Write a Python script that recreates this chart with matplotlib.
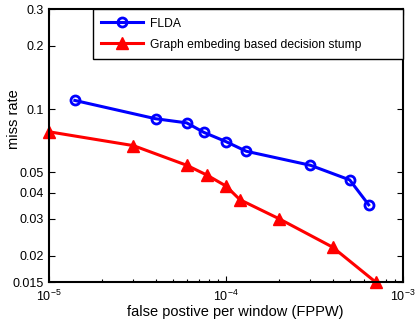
import numpy as np
import matplotlib
matplotlib.use("Agg")
import matplotlib.pyplot as plt
from matplotlib.ticker import FixedLocator, NullFormatter, LogLocator, NullLocator

plt.rcParams['font.family'] = ['Liberation Sans', 'DejaVu Sans']
plt.rcParams['mathtext.fontset'] = 'custom'
plt.rcParams['mathtext.rm'] = 'Liberation Sans'
plt.rcParams['mathtext.it'] = 'Liberation Sans'

# FLDA curve
flda_fppw = [1.4e-5, 4e-5, 6e-5, 7.5e-5, 1e-4, 1.3e-4, 3e-4, 5e-4, 6.4e-4]
flda_miss = [0.110, 0.090, 0.086, 0.0775, 0.070, 0.063, 0.054, 0.046, 0.035]

# graph embedding based decision stump
ge_fppw = [1e-5, 3e-5, 6e-5, 7.8e-5, 1e-4, 1.2e-4, 2e-4, 4e-4, 7e-4]
ge_miss = [0.078, 0.067, 0.054, 0.0485, 0.043, 0.037, 0.030, 0.022, 0.015]

ytick_vals = [0.015, 0.02, 0.03, 0.04, 0.05, 0.1, 0.2, 0.3]
ytick_labels = ['0.015', '0.02', '0.03', '0.04', '0.05', '0.1', '0.2', '0.3']

fig = plt.figure(figsize=(4.15, 3.24), dpi=100)
ax = fig.add_axes([0.118, 0.1296, 0.853, 0.8426])

ax.plot(flda_fppw, flda_miss, color='#0000ff', lw=2.2, marker='o', ms=6.5,
        mfc='none', mew=2, label='FLDA', clip_on=False)
ax.plot(ge_fppw, ge_miss, color='#ff0000', lw=2.2, marker='^', ms=9,
        mfc='#ff0000', label='Graph embeding based decision stump', clip_on=False)

ax.set_xscale('log')
ax.set_yscale('log')
ax.set_xlim(1e-5, 1e-3)
ax.set_ylim(0.015, 0.3)

ax.yaxis.set_major_locator(FixedLocator(ytick_vals))
ax.set_yticklabels(ytick_labels)
ax.yaxis.set_minor_locator(NullLocator())
ax.xaxis.set_major_locator(LogLocator(base=10))
ax.xaxis.set_minor_locator(LogLocator(base=10, subs=np.arange(2, 10)))
ax.xaxis.set_minor_formatter(NullFormatter())

ax.tick_params(which='both', direction='in', top=True, right=True, labelsize=9)
ax.tick_params(which='major', length=4, width=0.8)
ax.tick_params(which='minor', length=2, width=0.8)
ax.tick_params(axis='x', pad=5)
for s in ax.spines.values():
    s.set_linewidth(1.5)

ax.set_xlabel('false postive per window (FPPW)', fontsize=10.5)
ax.set_ylabel('miss rate', fontsize=10.5)
ax.xaxis.set_label_coords(0.525, -0.084)
ax.yaxis.set_label_coords(-0.078, 0.597)

leg = ax.legend(loc='upper right', bbox_to_anchor=(0.1243, 0.0, 0.8757, 1.0),
                mode='expand', fontsize=8.75, borderaxespad=0, fancybox=False,
                edgecolor='black', framealpha=1, handlelength=3.45,
                handletextpad=0.58, labelspacing=0.75, borderpad=0.7)
leg.get_frame().set_linewidth(1.0)

fig.savefig('out.png', dpi=100)
